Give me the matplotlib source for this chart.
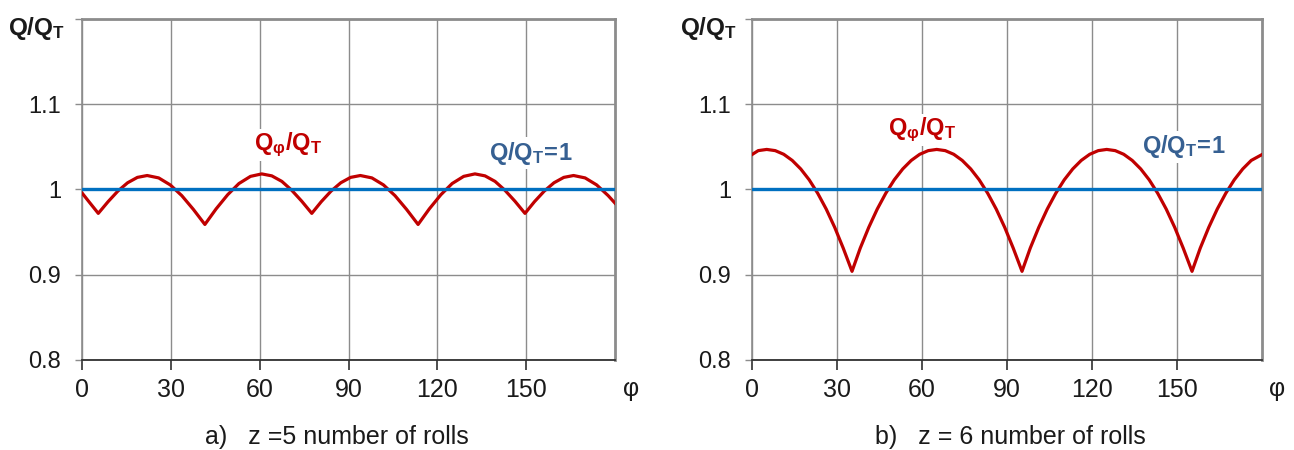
import matplotlib
matplotlib.use('Agg')
import matplotlib.pyplot as plt

plt.rcParams['font.family'] = ['Liberation Sans', 'DejaVu Sans']
plt.rcParams['mathtext.fontset'] = 'custom'
plt.rcParams['mathtext.rm'] = 'Liberation Sans'
plt.rcParams['mathtext.bf'] = 'Liberation Sans:bold'
plt.rcParams['mathtext.it'] = 'Liberation Sans:italic'

# ---- data ----
phi_a = [0, 2.5, 5.5, 8.8, 12.1, 15.4, 18.7, 22.0, 25.9, 29.8, 33.7, 37.6, 41.5,
         45.3, 49.2, 53.0, 56.9, 60.7, 64.1, 67.5, 70.8, 74.2, 77.6,
         80.8, 84.1, 87.4, 90.7, 94.0, 97.9, 101.8, 105.7, 109.6, 113.5,
         117.3, 121.2, 125.0, 128.9, 132.7, 136.1, 139.5, 142.8, 146.2, 149.6,
         152.8, 156.1, 159.4, 162.7, 166.0, 169.9, 173.8, 177.7, 180.0]
q_a = [0.996, 0.985, 0.972, 0.9857, 0.9981, 1.0079, 1.0142, 1.0164, 1.0136, 1.0054, 0.9928, 0.9767, 0.959,
       0.9773, 0.9939, 1.007, 1.0154, 1.0183, 1.016, 1.0095, 0.9992, 0.9863, 0.972,
       0.9857, 0.9981, 1.0079, 1.0142, 1.0164, 1.0136, 1.0054, 0.9928, 0.9767, 0.959,
       0.9773, 0.9939, 1.007, 1.0154, 1.0183, 1.016, 1.0095, 0.9992, 0.9863, 0.972,
       0.9857, 0.9981, 1.0079, 1.0142, 1.0164, 1.0136, 1.0054, 0.9928, 0.984]

phi_b = [0, 2.2, 5.2, 8.2, 11.2, 14.2, 17.2, 20.2, 23.2, 26.2, 29.2, 32.2, 35.3,
         38.2, 41.2, 44.2, 47.2, 50.2, 53.2, 56.2, 59.2, 62.2, 65.2,
         68.2, 71.2, 74.2, 77.2, 80.2, 83.2, 86.2, 89.2, 92.2, 95.3,
         98.2, 101.2, 104.2, 107.2, 110.2, 113.2, 116.2, 119.2, 122.2, 125.2,
         128.2, 131.2, 134.2, 137.2, 140.2, 143.2, 146.2, 149.2, 152.2, 155.3,
         158.2, 161.2, 164.2, 167.2, 170.2, 173.2, 176.2, 180.0]
q_b = [1.041, 1.0456, 1.047, 1.0456, 1.0413, 1.0341, 1.0241, 1.0113, 0.9955, 0.977, 0.9555, 0.9312, 0.904,
       0.9312, 0.9555, 0.977, 0.9955, 1.0113, 1.0241, 1.0341, 1.0413, 1.0456, 1.047,
       1.0456, 1.0413, 1.0341, 1.0241, 1.0113, 0.9955, 0.977, 0.9555, 0.9312, 0.904,
       0.9312, 0.9555, 0.977, 0.9955, 1.0113, 1.0241, 1.0341, 1.0413, 1.0456, 1.047,
       1.0456, 1.0413, 1.0341, 1.0241, 1.0113, 0.9955, 0.977, 0.9555, 0.9312, 0.904,
       0.9312, 0.9555, 0.977, 0.9955, 1.0113, 1.0241, 1.0341, 1.041]

ref_phi = [0, 180]
ref_q = [1.0, 1.0]

x_ticks = [0, 30, 60, 90, 120, 150]
x_tick_labels = ['0', '30', '60', '90', '120', '150']
y_ticks = [0.8, 0.9, 1.0, 1.1]
y_tick_labels = ['0.8', '0.9', '1', '1.1']
captions = ['a)   z =5 number of rolls', 'b)   z = 6 number of rolls']

RED = '#C00000'
BLUE = '#0070C0'
BLUE_TXT = '#366092'
GRID = '#8C8C8C'
TXT = '#1a1a1a'

fig = plt.figure(figsize=(12.94, 4.5), dpi=100)
W, H = 1294, 450
axA = fig.add_axes([82 / W, 90 / H, 533 / W, 341 / H])
axB = fig.add_axes([752 / W, 90 / H, 510 / W, 341 / H])

panels = [
    (axA, phi_a, q_a, (288, 145), (531, 153)),
    (axB, phi_b, q_b, (922, 130), (1184, 147)),
]

for ax, px, qy, lab1, lab2 in panels:
    ax.set_xlim(0, 180)
    ax.set_ylim(0.8, 1.2)
    ax.grid(True, color=GRID, linewidth=1.0)
    ax.set_axisbelow(True)
    ax.plot(px, qy, color=RED, linewidth=2.3, zorder=3, solid_joinstyle='round')
    ax.plot(ref_phi, ref_q, color=BLUE, linewidth=2.4, zorder=4)
    ax.set_xticks(x_ticks)
    ax.set_xticklabels(x_tick_labels)
    ax.set_yticks(y_ticks + [1.2])
    ax.set_yticklabels(y_tick_labels + [''])
    ax.tick_params(axis='x', direction='out', length=7, width=1.2, color='#303030',
                   labelsize=18, pad=6, labelcolor=TXT)
    ax.tick_params(axis='y', direction='out', length=5, width=1.0, color=GRID,
                   labelsize=17, pad=10, labelcolor=TXT)
    for s in ['left', 'top', 'right']:
        ax.spines[s].set_color('#8C8C8C')
        ax.spines[s].set_linewidth(2.0)
    ax.spines['left'].set_linewidth(1.2)
    ax.spines['bottom'].set_color('#303030')
    ax.spines['bottom'].set_linewidth(1.3)

    fig.text(lab1[0] / W, 1 - lab1[1] / H, r'$\mathbf{Q_{φ}/Q_{T}}$', color=RED,
             fontsize=17, ha='center', va='center', zorder=10,
             bbox=dict(facecolor='white', edgecolor='none', pad=1.5))
    fig.text(lab2[0] / W, 1 - lab2[1] / H, r'$\mathbf{Q/Q_{T}\!=\!1}$', color=BLUE_TXT,
             fontsize=17, ha='center', va='center', zorder=10,
             bbox=dict(facecolor='white', edgecolor='none', pad=1.5))

# y labels at the top-left of each panel
fig.text(36 / W, 1 - 28 / H, r'$\mathbf{Q/Q_{T}}$', fontsize=17.5, ha='center', va='center', color=TXT)
fig.text(708 / W, 1 - 28 / H, r'$\mathbf{Q/Q_{T}}$', fontsize=17.5, ha='center', va='center', color=TXT)

# phi axis labels
fig.text(631 / W, 1 - 389 / H, 'φ', fontsize=18, ha='center', va='center', color=TXT)
fig.text(1277 / W, 1 - 389 / H, 'φ', fontsize=18, ha='center', va='center', color=TXT)

# captions
fig.text(337 / W, 1 - 437 / H, captions[0], fontsize=18, ha='center', va='center', color=TXT)
fig.text(1010 / W, 1 - 437 / H, captions[1], fontsize=18, ha='center', va='center', color=TXT)

fig.savefig('out.png', dpi=100, facecolor='white')
